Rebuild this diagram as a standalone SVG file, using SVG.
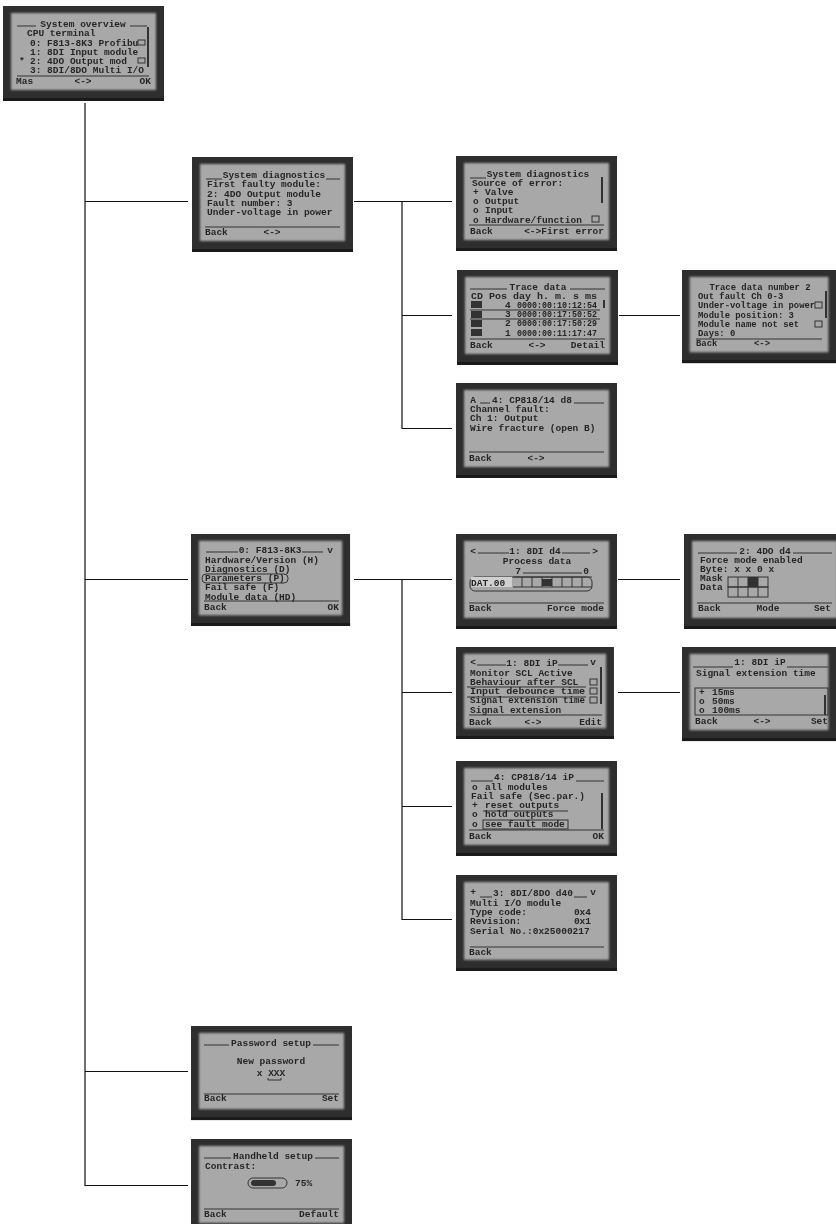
<svg xmlns="http://www.w3.org/2000/svg" width="836" height="1224" viewBox="0 0 836 1224">
<defs>
<filter id="b" x="-5%" y="-5%" width="110%" height="110%"><feGaussianBlur stdDeviation="0.7"/></filter>
<filter id="c" x="-5%" y="-5%" width="110%" height="110%"><feGaussianBlur stdDeviation="1"/></filter>
<symbol id="frame" overflow="visible"><rect width="161" height="95" fill="#2e2e2e"/><rect x="8" y="7" width="145" height="77" fill="#a8a8a8" filter="url(#c)"/><rect y="92" width="161" height="3" fill="#1a1a1a"/></symbol>
</defs>
<style>
text{font-family:"Liberation Mono","DejaVu Sans Mono",monospace;font-size:9.5px;font-weight:700;fill:#262626}
.m{text-anchor:middle}
.e{text-anchor:end}
.c{filter:url(#b)}
.r{stroke:#333;stroke-width:1;fill:none}
.d{fill:#333}
.w{fill:#d0d0d0}
.l{stroke:#111;stroke-width:1.2;fill:none}
.n text{font-size:8.9px}
</style>
<rect width="836" height="1224" fill="#fff"/>
<g id="connectors" class="l">
<path d="M85 103V1185.500H188M85 201.500H188M85 579.500H188M85 1071.500H188"/>
<path d="M354 201.500H452M402 201.500V428.500H452M402 315.500H452M619 315.500H680"/>
<path d="M354 579.500H452M402 579.500V919.500H452M402 692.500H452M402 806.500H452M618 579.500H680M618 692.500H680"/>
</g>

<g id="n0" transform="translate(3 6)"><use href="#frame"/><g class="c">
<path class="r" d="M14 20H33M127 20H144M14 70H146"/><path class="d" d="M144 21h2v40h-2z"/>
<text x="80" y="21" class="m">System overview</text>
<text x="24" y="30">CPU terminal</text>
<text x="27" y="40">0: F813-8K3 Profibu</text><text x="27" y="49">1: 8DI Input module</text>
<text x="16" y="58">*</text><text x="27" y="58">2: 4DO Output mod</text><text x="27" y="67">3: 8DI/8DO Multi I/O</text>
<rect x="135" y="34" width="7" height="5" class="r"/><rect x="135" y="52" width="7" height="5" class="r"/>
<text x="13" y="78">Mas</text><text x="80" y="78" class="m">&lt;-&gt;</text><text x="148" y="78" class="e">OK</text>
</g></g>

<g id="n1" transform="translate(192 157)"><use href="#frame"/><g class="c">
<path class="r" d="M14 22H30M134 22H148M13 70H148"/>
<text x="82" y="21" class="m">System diagnostics</text>
<text x="15" y="30">First faulty module:</text><text x="15" y="40">2: 4DO Output module</text><text x="15" y="49">Fault number: 3</text><text x="15" y="58">Under-voltage in power</text>
<text x="13" y="78">Back</text><text x="80" y="78" class="m">&lt;-&gt;</text>
</g></g>

<g id="n2" transform="translate(456 156)"><use href="#frame"/><g class="c">
<path class="r" d="M14 22H30M13 69H148"/><path class="d" d="M145 21h2v26h-2z"/>
<text x="82" y="21" class="m">System diagnostics</text>
<text x="16" y="30">Source of error:</text>
<text x="17" y="39">+</text><text x="29" y="39">Valve</text><text x="17" y="48">o</text><text x="29" y="48">Output</text><text x="17" y="57">o</text><text x="29" y="57">Input</text><text x="17" y="67">o</text><text x="29" y="67">Hardware/function</text>
<rect x="136" y="60" width="7" height="6" class="r"/>
<text x="14" y="78">Back</text><text x="148" y="78" class="e">&lt;-&gt;First error</text>
</g></g>

<g id="n3" transform="translate(457 270)"><use href="#frame"/><g class="c">
<path class="r" d="M13 19H50M113 19H148M13 40H143M13 49H143M13 69H148"/><path class="d" d="M146 30h2v8h-2z"/>
<text x="81" y="20" class="m">Trace data</text>
<text x="14" y="29" textLength="126" lengthAdjust="spacingAndGlyphs">CD Pos day h. m. s ms</text>
<text x="48" y="38">4</text><text x="60" y="38" textLength="80" lengthAdjust="spacingAndGlyphs">0000:00:10:12:54</text>
<text x="48" y="47">3</text><text x="60" y="47" textLength="80" lengthAdjust="spacingAndGlyphs">0000:00:17:50:52</text>
<text x="48" y="56">2</text><text x="60" y="56" textLength="80" lengthAdjust="spacingAndGlyphs">0000:00:17:50:29</text>
<text x="48" y="66">1</text><text x="60" y="66" textLength="80" lengthAdjust="spacingAndGlyphs">0000:00:11:17:47</text>
<rect x="14" y="31" width="11" height="7" class="d"/><rect x="14" y="41" width="11" height="7" class="d"/><rect x="14" y="50" width="11" height="7" class="d"/><rect x="14" y="59" width="11" height="7" class="d"/>
<text x="13" y="78">Back</text><text x="80" y="78" class="m">&lt;-&gt;</text><text x="148" y="78" class="e">Detail</text>
</g></g>

<g id="n4" class="n" transform="translate(682 270)"><use href="#frame" transform="scale(0.957 0.98)"/><g class="c">
<path class="r" d="M14 69H140"/><path class="d" d="M143 21h2v27h-2z"/>
<text x="78" y="20" class="m">Trace data number 2</text>
<text x="16" y="29">Out fault Ch 0-3</text><text x="16" y="38">Under-voltage in power</text><text x="16" y="48">Module position: 3</text><text x="16" y="57">Module name not set</text><text x="16" y="66">Days:      0</text>
<rect x="133" y="32" width="7" height="6" class="r"/><rect x="133" y="51" width="7" height="6" class="r"/>
<text x="14" y="76">Back</text><text x="80" y="76" class="m">&lt;-&gt;</text>
</g></g>

<g id="n5" transform="translate(456 383)"><use href="#frame"/><g class="c">
<path class="r" d="M24 20H34M118 20H148M13 69H148"/>
<text x="17" y="20" class="m">A</text><text x="76" y="20" class="m">4: CP818/14 d8</text>
<text x="14" y="29">Channel fault:</text><text x="14" y="38">Ch 1: Output</text><text x="14" y="48">Wire fracture (open B)</text>
<text x="13" y="78">Back</text><text x="80" y="78" class="m">&lt;-&gt;</text>
</g></g>

<g id="n6" transform="translate(191 534)"><use href="#frame" transform="scale(0.988 0.968)"/><g class="c">
<path class="r" d="M15 18H47M111 18H132M13 67H148"/>
<text x="79" y="19" class="m">0: F813-8K3</text><text x="139" y="19" class="m">v</text>
<text x="14" y="29">Hardware/Version (H)</text><text x="14" y="38">Diagnostics (D)</text><text x="14" y="47">Parameters (P)</text><text x="14" y="56">Fail safe (F)</text><text x="14" y="66">Module data (HD)</text>
<rect x="11" y="40" width="86" height="9" rx="4" class="r"/>
<text x="13" y="76">Back</text><text x="148" y="76" class="e">OK</text>
</g></g>

<g id="n7" transform="translate(456 534)"><use href="#frame"/><g class="c">
<path class="r" d="M22 19H53M106 19H134M67 39H126M13 69H148"/>
<text x="17" y="20" class="m">&lt;</text><text x="79" y="20" class="m">1: 8DI d4</text><text x="139" y="20" class="m">&gt;</text>
<text x="81" y="30" class="m">Process data</text><text x="62" y="40" class="m">7</text><text x="130" y="40" class="m">0</text>
<rect x="14" y="43" width="122" height="14" rx="5" class="r"/><rect x="15" y="43" width="41" height="10" class="w"/>
<text x="15" y="52">DAT.00</text>
<path class="r" d="M57 43H136M57 53H136M66 43V53M76 43V53M86 43V53M96 43V53M106 43V53M116 43V53M126 43V53"/><rect x="86" y="45" width="10" height="7" class="d"/>
<text x="13" y="77">Back</text><text x="148" y="77" class="e">Force mode</text>
</g></g>

<g id="n8" transform="translate(684 534)"><use href="#frame"/><g class="c">
<path class="r" d="M14 19H53M109 19H148M13 69H148"/>
<text x="81" y="20" class="m">2: 4DO d4</text>
<text x="16" y="29">Force mode enabled</text><text x="16" y="38">Byte: x x 0 x</text><text x="16" y="47">Mask</text><text x="16" y="56">Data</text>
<rect x="44" y="43" width="40" height="10" class="r"/><rect x="44" y="53" width="40" height="10" class="r"/><path class="r" d="M54 43V63M64 43V63M74 43V63"/><rect x="64" y="43" width="10" height="10" class="d"/>
<text x="14" y="77">Back</text><text x="84" y="77" class="m">Mode</text><text x="147" y="77" class="e">Set</text>
</g></g>

<g id="n9" transform="translate(456 647)"><use href="#frame" transform="scale(0.981 0.968)"/><g class="c">
<path class="r" d="M21 18H50M102 18H132M13 68H146M11 40H130M11 50H130"/><path class="d" d="M144 20h2v37h-2z"/>
<text x="17" y="18" class="m">&lt;</text><text x="76" y="19" class="m">1: 8DI iP</text><text x="137" y="18" class="m">v</text>
<text x="14" y="29">Monitor SCL Active</text><text x="14" y="38">Behaviour after SCL</text><text x="14" y="47" textLength="115" lengthAdjust="spacingAndGlyphs">Input debounce time</text><text x="14" y="56" textLength="115" lengthAdjust="spacingAndGlyphs">Signal extension time</text><text x="14" y="66">Signal extension</text>
<rect x="134" y="32" width="7" height="6" class="r"/><rect x="134" y="41" width="7" height="6" class="r"/><rect x="134" y="50" width="7" height="6" class="r"/>
<text x="13" y="78">Back</text><text x="77" y="78" class="m">&lt;-&gt;</text><text x="146" y="78" class="e">Edit</text>
</g></g>

<g id="n10" transform="translate(682 647)"><use href="#frame" transform="scale(0.957 0.99)"/><g class="c">
<path class="r" d="M11 20H51M105 20H146"/><rect x="13" y="41" width="133" height="27" class="r"/><path class="d" d="M142 48h2v20h-2z"/>
<text x="78" y="18" class="m">1: 8DI iP</text>
<text x="14" y="29">Signal extension time</text>
<text x="17" y="48">+</text><text x="30" y="48">15ms</text><text x="17" y="57">o</text><text x="30" y="57">50ms</text><text x="17" y="66">o</text><text x="30" y="66">100ms</text>
<text x="13" y="77">Back</text><text x="80" y="77" class="m">&lt;-&gt;</text><text x="146" y="77" class="e">Set</text>
</g></g>

<g id="n11" transform="translate(456 761)"><use href="#frame"/><g class="c">
<path class="r" d="M15 20H37M120 20H148M13 69H148M27 50H112"/><rect x="27" y="59" width="85" height="9" class="r"/><path class="d" d="M145 32h2v36h-2z"/>
<text x="78" y="19" class="m">4: CP818/14 iP</text>
<text x="16" y="29">o</text><text x="29" y="29">all modules</text><text x="15" y="38">Fail safe (Sec.par.)</text>
<text x="16" y="47">+</text><text x="29" y="47">reset outputs</text><text x="16" y="56">o</text><text x="29" y="56">hold outputs</text><text x="16" y="66">o</text><text x="29" y="66">see fault mode</text>
<text x="13" y="78">Back</text><text x="148" y="78" class="e">OK</text>
</g></g>

<g id="n12" transform="translate(456 875)"><use href="#frame" transform="scale(1 1.01)"/><g class="c">
<path class="r" d="M24 22H36M118 22H131M14 72H148"/>
<text x="17" y="20" class="m">+</text><text x="77" y="21" class="m">3: 8DI/8DO d40</text><text x="137" y="20" class="m">v</text>
<text x="14" y="31">Multi I/O module</text><text x="14" y="40">Type code:</text><text x="135" y="40" class="e">0x4</text><text x="14" y="49">Revision:</text><text x="135" y="49" class="e">0x1</text><text x="14" y="59">Serial No.:0x25000217</text>
<text x="13" y="80">Back</text>
</g></g>

<g id="n13" transform="translate(191 1026)"><use href="#frame" transform="scale(1 0.99)"/><g class="c">
<path class="r" d="M13 19H38M122 19H148M13 68H148"/>
<text x="80" y="20" class="m">Password setup</text>
<text x="80" y="38" class="m">New password</text><text x="80" y="50" class="m">x XXX</text>
<path class="r" d="M77 52V54H90V52"/>
<text x="13" y="75">Back</text><text x="148" y="75" class="e">Set</text>
</g></g>

<g id="n14" transform="translate(191 1139)"><use href="#frame"/><g class="c">
<path class="r" d="M13 19H40M124 19H148M13 70H148"/>
<text x="82" y="20" class="m">Handheld setup</text>
<text x="14" y="30">Contrast:</text>
<rect x="57" y="39" width="39" height="10" rx="5" class="r"/><rect x="60" y="41" width="25" height="6" rx="3" class="d"/>
<text x="104" y="47">75%</text>
<text x="13" y="78">Back</text><text x="148" y="78" class="e">Default</text>
</g></g>
</svg>
